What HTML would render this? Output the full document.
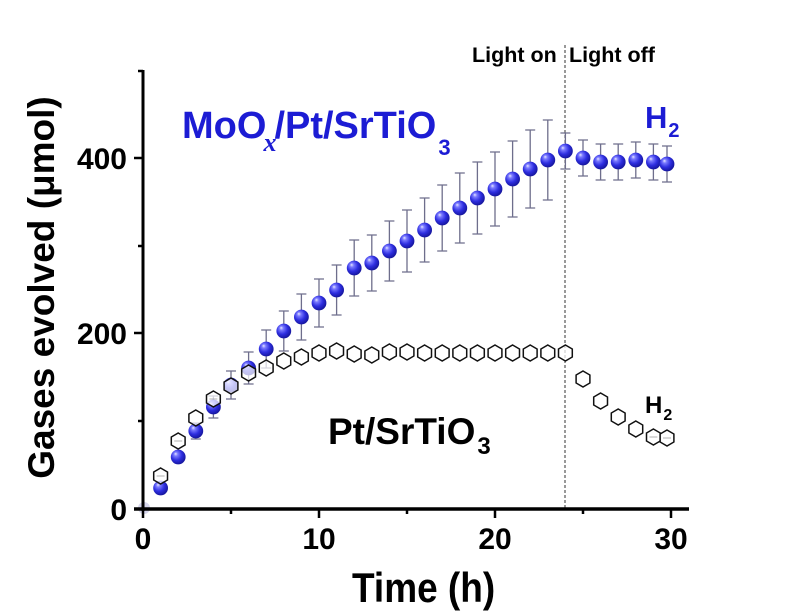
<!DOCTYPE html>
<html>
<head>
<meta charset="utf-8">
<style>
html,body{margin:0;padding:0;background:#fff;}
svg{display:block;}
text{font-family:"Liberation Sans",Arial,sans-serif;font-weight:bold;}
</style>
</head>
<body>
<svg width="800" height="611" viewBox="0 0 800 611" xmlns="http://www.w3.org/2000/svg">
<defs>
  <radialGradient id="sph" cx="0.42" cy="0.4" r="0.62" fx="0.32" fy="0.28">
    <stop offset="0" stop-color="#e8e8ff"/>
    <stop offset="0.22" stop-color="#7a7aff"/>
    <stop offset="0.6" stop-color="#2e2ee0"/>
    <stop offset="1" stop-color="#14149a"/>
  </radialGradient>
  <circle id="ball" r="7.4" fill="url(#sph)"/>
  <path id="hex" d="M0,-8 L6.9,-4 L6.9,4 L0,8 L-6.9,4 L-6.9,-4 Z" fill="#ffffff" fill-opacity="0.72" stroke="#111" stroke-width="1.5"/>
</defs>

<rect width="800" height="611" fill="#fff"/>

<circle cx="144" cy="508" r="6" fill="#d6d6ec"/>

<line x1="565" y1="45" x2="565" y2="509" stroke="#333" stroke-width="1" stroke-dasharray="3,2"/>

<path fill="none" stroke="#6e6e8c" stroke-width="1.3" d="
M178.2,453V461M173.2,453H183.2M173.2,461H183.2
M195.8,423V439M190.8,423H200.8M190.8,439H200.8
M213.4,396V418M208.4,396H218.4M208.4,418H218.4
M231,371V399M226,371H236M226,399H236
M248.6,352V384M243.6,352H253.6M243.6,384H253.6
M266.2,330V368M261.2,330H271.2M261.2,368H271.2
M283.8,311V351M278.8,311H288.8M278.8,351H288.8
M301.4,294V340M296.4,294H306.4M296.4,340H306.4
M319,279V327M314,279H324M314,327H324
M336.6,265V315M331.6,265H341.6M331.6,315H341.6
M354.2,240V296M349.2,240H359.2M349.2,296H359.2
M371.8,235V291M366.8,235H376.8M366.8,291H376.8
M389.4,221V281M384.4,221H394.4M384.4,281H394.4
M407,210V272M402,210H412M402,272H412
M424.6,198V262M419.6,198H429.6M419.6,262H429.6
M442.2,185V251M437.2,185H447.2M437.2,251H447.2
M459.8,173V243M454.8,173H464.8M454.8,243H464.8
M477.4,162V234M472.4,162H482.4M472.4,234H482.4
M495,152V226M490,152H500M490,226H500
M512.6,141V217M507.6,141H517.6M507.6,217H517.6
M530.2,130V208M525.2,130H535.2M525.2,208H535.2
M547.8,120V200M542.8,120H552.8M542.8,200H552.8
M565.4,133V169M560.4,133H570.4M560.4,169H570.4
M583,140V176M578,140H588M578,176H588
M600.6,144V180M595.6,144H605.6M595.6,180H605.6
M618.2,144V180M613.2,144H623.2M613.2,180H623.2
M635.8,142V178M630.8,142H640.8M630.8,178H640.8
M653.4,144V180M648.4,144H658.4M648.4,180H658.4
M667,146V182M662,146H672M662,182H672"/>

<g>
<use href="#ball" x="160.6" y="488"/>
<use href="#ball" x="178.2" y="457"/>
<use href="#ball" x="195.8" y="431"/>
<use href="#ball" x="213.4" y="407"/>
<use href="#ball" x="231" y="385"/>
<use href="#ball" x="248.6" y="368"/>
<use href="#ball" x="266.2" y="349"/>
<use href="#ball" x="283.8" y="331"/>
<use href="#ball" x="301.4" y="317"/>
<use href="#ball" x="319" y="303"/>
<use href="#ball" x="336.6" y="290"/>
<use href="#ball" x="354.2" y="268"/>
<use href="#ball" x="371.8" y="263"/>
<use href="#ball" x="389.4" y="251"/>
<use href="#ball" x="407" y="241"/>
<use href="#ball" x="424.6" y="230"/>
<use href="#ball" x="442.2" y="218"/>
<use href="#ball" x="459.8" y="208"/>
<use href="#ball" x="477.4" y="198"/>
<use href="#ball" x="495" y="189"/>
<use href="#ball" x="512.6" y="179"/>
<use href="#ball" x="530.2" y="169"/>
<use href="#ball" x="547.8" y="160"/>
<use href="#ball" x="565.4" y="151"/>
<use href="#ball" x="583" y="158"/>
<use href="#ball" x="600.6" y="162"/>
<use href="#ball" x="618.2" y="162"/>
<use href="#ball" x="635.8" y="160"/>
<use href="#ball" x="653.4" y="162"/>
<use href="#ball" x="667" y="164"/>
</g>

<g>
<use href="#hex" x="160.6" y="476"/>
<use href="#hex" x="178.2" y="441"/>
<use href="#hex" x="195.8" y="418"/>
<use href="#hex" x="213.4" y="399"/>
<use href="#hex" x="231" y="386"/>
<use href="#hex" x="248.6" y="373"/>
<use href="#hex" x="266.2" y="368"/>
<use href="#hex" x="283.8" y="361"/>
<use href="#hex" x="301.4" y="357"/>
<use href="#hex" x="319" y="353"/>
<use href="#hex" x="336.6" y="351"/>
<use href="#hex" x="354.2" y="354"/>
<use href="#hex" x="371.8" y="355"/>
<use href="#hex" x="389.4" y="352"/>
<use href="#hex" x="407" y="352"/>
<use href="#hex" x="424.6" y="353"/>
<use href="#hex" x="442.2" y="353"/>
<use href="#hex" x="459.8" y="353"/>
<use href="#hex" x="477.4" y="353"/>
<use href="#hex" x="495" y="353"/>
<use href="#hex" x="512.6" y="353"/>
<use href="#hex" x="530.2" y="353"/>
<use href="#hex" x="547.8" y="353"/>
<use href="#hex" x="565.4" y="353"/>
<use href="#hex" x="583" y="379"/>
<use href="#hex" x="600.6" y="401"/>
<use href="#hex" x="618.2" y="417"/>
<use href="#hex" x="635.8" y="429"/>
<use href="#hex" x="653.4" y="437"/>
<use href="#hex" x="667" y="438"/>
</g>

<path fill="none" stroke="#999" stroke-width="0.8" d="
M156.6,476H164.6
M174.2,441H182.2
M209.4,399H217.4
M649.4,437H657.4
M663,438H671"/>

<g stroke="#000" stroke-linecap="butt">
  <line x1="143" y1="70" x2="143" y2="511" stroke-width="3"/>
  <line x1="134" y1="509" x2="689" y2="509" stroke-width="3.5"/>
  <line x1="134" y1="333" x2="143" y2="333" stroke-width="2.5"/>
  <line x1="134" y1="158" x2="143" y2="158" stroke-width="2.5"/>
  <line x1="138" y1="421" x2="143" y2="421" stroke-width="2.5"/>
  <line x1="138" y1="246" x2="143" y2="246" stroke-width="2.5"/>
  <line x1="138" y1="71" x2="143" y2="71" stroke-width="2.5"/>
  <line x1="143" y1="509" x2="143" y2="518" stroke-width="2.5"/>
  <line x1="319" y1="509" x2="319" y2="518" stroke-width="2.5"/>
  <line x1="495" y1="509" x2="495" y2="518" stroke-width="2.5"/>
  <line x1="671" y1="509" x2="671" y2="518" stroke-width="2.5"/>
  <line x1="231" y1="509" x2="231" y2="514" stroke-width="2.5"/>
  <line x1="407" y1="509" x2="407" y2="514" stroke-width="2.5"/>
  <line x1="583" y1="509" x2="583" y2="514" stroke-width="2.5"/>
</g>

<g font-size="30" fill="#000">
  <text x="143" y="549" text-anchor="middle">0</text>
  <text x="319" y="549" text-anchor="middle">10</text>
  <text x="495" y="549" text-anchor="middle">20</text>
  <text x="671" y="549" text-anchor="middle">30</text>
  <text x="127" y="520" text-anchor="end">0</text>
  <text x="127" y="344" text-anchor="end">200</text>
  <text x="127" y="169" text-anchor="end">400</text>
</g>

<text transform="translate(352,602) scale(1,1.12)" font-size="37" fill="#000">Time (h)</text>
<text transform="translate(54,287.5) rotate(-90)" text-anchor="middle" font-size="37" fill="#000">Gases evolved (μmol)</text>

<text x="472" y="62" font-size="21.5" fill="#000">Light on</text>
<text x="569" y="62" font-size="21.5" fill="#000">Light off</text>

<text x="182" y="138" font-size="38" fill="#1c1cd4">MoO<tspan font-family="Liberation Serif" font-style="italic" font-size="26" dy="13" dx="-3">x</tspan><tspan dy="-13" dx="-2">/Pt/SrTiO</tspan><tspan font-size="22" dy="17" dx="2">3</tspan></text>

<text x="645" y="128" font-size="31" fill="#1c1cd4">H<tspan font-size="20" dy="9" dx="1">2</tspan></text>

<text x="328" y="444" font-size="37" fill="#000">Pt/SrTiO<tspan font-size="24" dy="10" dx="2">3</tspan></text>

<text x="645" y="413" font-size="24" fill="#000">H<tspan font-size="16" dy="7" dx="1">2</tspan></text>
</svg>
</body>
</html>
